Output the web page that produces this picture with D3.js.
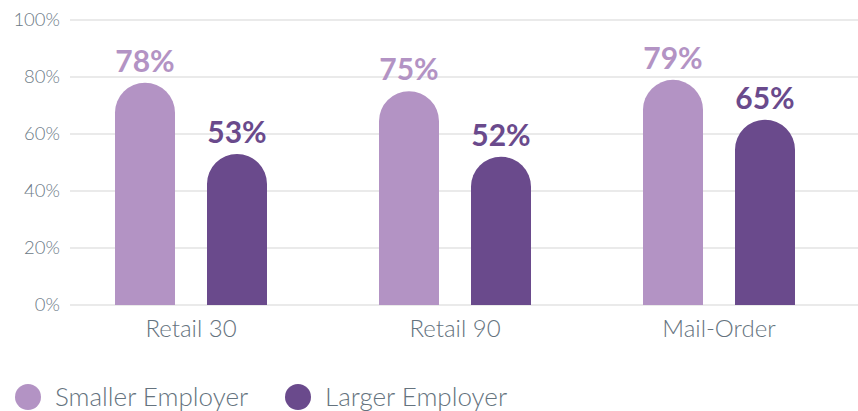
<!DOCTYPE html>
<html>
<head>
<meta charset="utf-8">
<script src="https://cdn.jsdelivr.net/npm/d3@7"></script>
<style>
  html, body { margin: 0; padding: 0; background: #fff; }
  svg { display: block; font-family: Lato, "Open Sans", sans-serif; }
</style>
</head>
<body>
<svg id="chart" width="858" height="411"></svg>
<script>
// Share of respondents by pharmacy channel and employer size
const categories = ["Retail 30", "Retail 90", "Mail-Order"];
const seriesNames = ["Smaller Employer", "Larger Employer"];
const smallerEmployer = [78, 75, 79];
const largerEmployer = [53, 52, 65];
const yTicks = [0, 20, 40, 60, 80, 100];
const colors = ["#b393c4", "#6a4a8c"];

const svg = d3.select("#chart");
const W = 858;

const y = d3.scaleLinear().domain([0, 100]).range([305, 20]);
const x = d3.scaleBand().domain(categories).range([59, 851]).padding(0);
const barW = 60;
const sx = name => name === seriesNames[0] ? -76 : 16;

// Gridlines
svg.append("g")
  .selectAll("line")
  .data(yTicks)
  .join("line")
  .attr("x1", 70).attr("x2", W)
  .attr("y1", d => y(d)).attr("y2", d => y(d))
  .attr("stroke", "#d6d6d6")
  .attr("stroke-width", 1.2);

// Y axis labels
const yAxis = d3.axisLeft(y).tickValues(yTicks).tickFormat(d => d + "%").tickSize(0).tickPadding(0);
const gy = svg.append("g").attr("transform", "translate(60,0)").call(yAxis);
gy.select(".domain").remove();
gy.selectAll("text")
  .attr("font-family", "Lato, sans-serif")
  .attr("font-weight", 300)
  .attr("font-size", 18.5)
  .attr("fill", "#6c7a86");

// X axis labels
const xAxis = d3.axisBottom(x).tickSize(0).tickPadding(0);
const gx = svg.append("g").call(xAxis);
gx.select(".domain").remove();
gx.selectAll("text")
  .attr("y", 337)
  .attr("dy", 0)
  .attr("font-family", "Lato, sans-serif")
  .attr("font-weight", 300)
  .attr("font-size", 24)
  .attr("fill", "#65737e");

// Bars with a rounded top cap
function capBar(x0, v) {
  const top = y(v), bottom = y(0), r = barW / 2;
  return `M${x0},${bottom} L${x0},${top + r} A${r},${r} 0 0 1 ${x0 + barW},${top + r} L${x0 + barW},${bottom} Z`;
}

const rows = categories.map((c, i) => [
  { cat: c, name: seriesNames[0], value: smallerEmployer[i], color: colors[0] },
  { cat: c, name: seriesNames[1], value: largerEmployer[i], color: colors[1] }
]).flat();

const gBars = svg.append("g");
gBars.selectAll("path")
  .data(rows)
  .join("path")
  .attr("d", d => capBar(x(d.cat) + x.bandwidth() / 2 + sx(d.name), d.value))
  .attr("fill", d => d.color);

gBars.selectAll("text")
  .data(rows)
  .join("text")
  .attr("x", d => x(d.cat) + x.bandwidth() / 2 + sx(d.name) + barW / 2)
  .attr("y", d => y(d.value) - 11)
  .attr("text-anchor", "middle")
  .attr("font-family", "Lato, sans-serif")
  .attr("font-weight", 700)
  .attr("font-size", 30)
  .attr("fill", d => d.color)
  .text(d => d.value + "%");

// Legend
const legend = svg.append("g");
const legendX = [28, 298];
seriesNames.forEach((name, i) => {
  legend.append("circle")
    .attr("cx", legendX[i]).attr("cy", 397).attr("r", 13)
    .attr("fill", colors[i]);
  legend.append("text")
    .attr("x", legendX[i] + 27).attr("y", 406)
    .attr("font-family", "Lato, sans-serif")
    .attr("font-weight", 300)
    .attr("font-size", 26)
    .attr("fill", "#65737e")
    .text(name);
});
</script>
</body>
</html>
